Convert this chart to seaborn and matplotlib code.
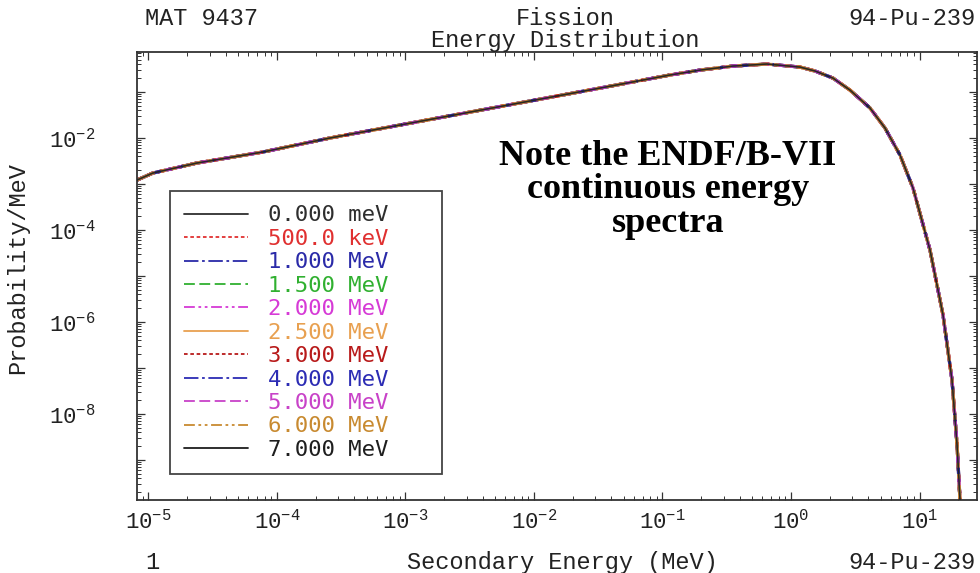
import math
import matplotlib
matplotlib.use("Agg")
import matplotlib.pyplot as plt
import seaborn as sns
from matplotlib.ticker import FixedLocator, LogLocator, FuncFormatter, NullFormatter

# Pu-239 fission neutron spectrum (secondary energy in MeV, probability per MeV)
energy_mev = [8.14e-6, 1.08e-5, 2.38e-5, 7.78e-5, 2.58e-4, 1.47e-3, 3.27e-2,
              1.14e-1, 1.96e-1, 3.54e-1, 6.5e-1, 1.175, 1.54, 2.12, 2.88, 4.12,
              5.39, 7.05, 8.90, 12.07, 15.24, 17.9, 19.6, 20.7]
prob_per_mev = [1.22e-3, 1.73e-3, 2.86e-3, 4.97e-3, 1.0e-2, 2.46e-2, 0.122,
                0.234, 0.300, 0.367, 0.406, 0.349, 0.286, 0.201, 0.110, 0.0449,
                0.0165, 4.27e-3, 8.19e-4, 3.67e-5, 1.42e-6, 5.48e-8, 2.12e-9,
                1.22e-10]

# Incident neutron energies shown in the legend
incident_labels = ["0.000 meV", "500.0 keV", "1.000 MeV", "1.500 MeV",
                   "2.000 MeV", "2.500 MeV", "3.000 MeV", "4.000 MeV",
                   "5.000 MeV", "6.000 MeV", "7.000 MeV"]
line_colors = ["#2e2e2e", "#e03030", "#2a2aa8", "#30b030", "#d63ad6",
               "#e8a050", "#b81a1a", "#2c2cb4", "#c842c8", "#c88a30", "#1e1e1e"]
line_styles = ["-", (0, (2, 1.5)), (0, (8, 2, 1.5, 2)), (0, (6, 2.5)),
               (0, (6, 2, 1.5, 2, 1.5, 2)), "-", (0, (2, 1.5)),
               (0, (8, 2, 1.5, 2)), (0, (6, 2.5)), (0, (6, 2, 1.5, 2, 1.5, 2)), "-"]

x_decades = [-5, -4, -3, -2, -1, 0, 1]
y_decades = list(range(-10, 1))
y_labeled = [-8, -6, -4, -2]

sns.set_style("ticks")
plt.rcParams["font.family"] = ["Liberation Mono", "DejaVu Sans Mono", "DejaVu Sans"]
plt.rcParams["mathtext.default"] = "regular"

fig = plt.figure(figsize=(9.8, 5.73), dpi=100)
ax = fig.add_axes([0.1398, 0.1274, 0.8571, 0.7818])
ax.set_xscale("log")
ax.set_yscale("log")

for lab, col, ls in zip(incident_labels, line_colors, line_styles):
    black = ls == "-" and col != "#e8a050"
    sns.lineplot(x=energy_mev, y=prob_per_mev, ax=ax, color=col,
                 linestyle=ls, linewidth=1.1 if black else 2.3,
                 alpha=0.75 if black else 1.0,
                 label=lab, zorder=3 if black else 2,
                 sort=False, estimator=None)

ax.set_xlim(8.14e-6, 28.0)
ax.set_ylim(1.35e-10, 0.741)

ax.xaxis.set_major_locator(FixedLocator([10.0 ** d for d in x_decades]))
ax.xaxis.set_minor_locator(LogLocator(base=10, subs=range(2, 10), numticks=40))
ax.xaxis.set_major_formatter(FuncFormatter(
    lambda v, p: r"$\mathdefault{10^{%d}}$" % round(math.log10(v))))
ax.xaxis.set_minor_formatter(NullFormatter())

ax.yaxis.set_major_locator(FixedLocator([10.0 ** d for d in y_decades]))
ax.yaxis.set_minor_locator(LogLocator(base=10, subs=range(2, 10), numticks=40))


def y_fmt(v, p):
    d = round(math.log10(v))
    return r"$\mathdefault{10^{%d}}$" % d if d in y_labeled else ""


ax.yaxis.set_major_formatter(FuncFormatter(y_fmt))
ax.yaxis.set_minor_formatter(NullFormatter())

ax.tick_params(which="both", direction="in", top=True, right=True,
               color="#333333", labelsize=16, labelcolor="#222222")
ax.tick_params(which="major", length=6, width=0.9)
ax.tick_params(which="minor", length=3, width=0.7)
ax.tick_params(axis="x", which="major", pad=7)
ax.tick_params(axis="y", which="major", pad=30)
for s in ax.spines.values():
    s.set_color("#333333")
    s.set_linewidth(1.3)

ax.set_xlabel("")
ax.set_ylabel("")

leg = ax.legend(loc="upper left", bbox_to_anchor=(0.0393, 0.0, 0.3238, 0.6897),
                mode="expand", frameon=True, fancybox=False, edgecolor="#444444",
                framealpha=1.0, prop={"family": "DejaVu Sans Mono", "size": 16},
                handlelength=2.85, handletextpad=0.9, labelspacing=0.155,
                borderpad=0.65, borderaxespad=0.0, labelcolor=line_colors)
leg.get_frame().set_linewidth(1.3)
for h in leg.get_lines():
    h.set_linewidth(1.3)
    h.set_alpha(1.0)

ax.text(0.632, 0.693, "Note the ENDF/B-VII\ncontinuous energy\nspectra",
        transform=ax.transAxes, ha="center", va="center",
        family="Liberation Serif", fontweight="bold", fontsize=26,
        linespacing=1.02, color="#000000")

txt = dict(fontsize=17, color="#222222")
fig.text(0.148, 0.968, "MAT 9437", ha="left", va="center", **txt)
fig.text(0.5765, 0.968, "Fission", ha="center", va="center", **txt)
fig.text(0.995, 0.968, "94-Pu-239", ha="right", va="center", **txt)
fig.text(0.5765, 0.930, "Energy Distribution", ha="center", va="center", **txt)
fig.text(0.148, 0.019, "1", ha="left", va="center", **txt)
fig.text(0.5735, 0.019, "Secondary Energy (MeV)", ha="center", va="center", **txt)
fig.text(0.995, 0.019, "94-Pu-239", ha="right", va="center", **txt)
fig.text(0.018, 0.532, "Probability/MeV", ha="center", va="center",
         rotation=90, **txt)

fig.savefig("out.png", dpi=100, facecolor="white")
